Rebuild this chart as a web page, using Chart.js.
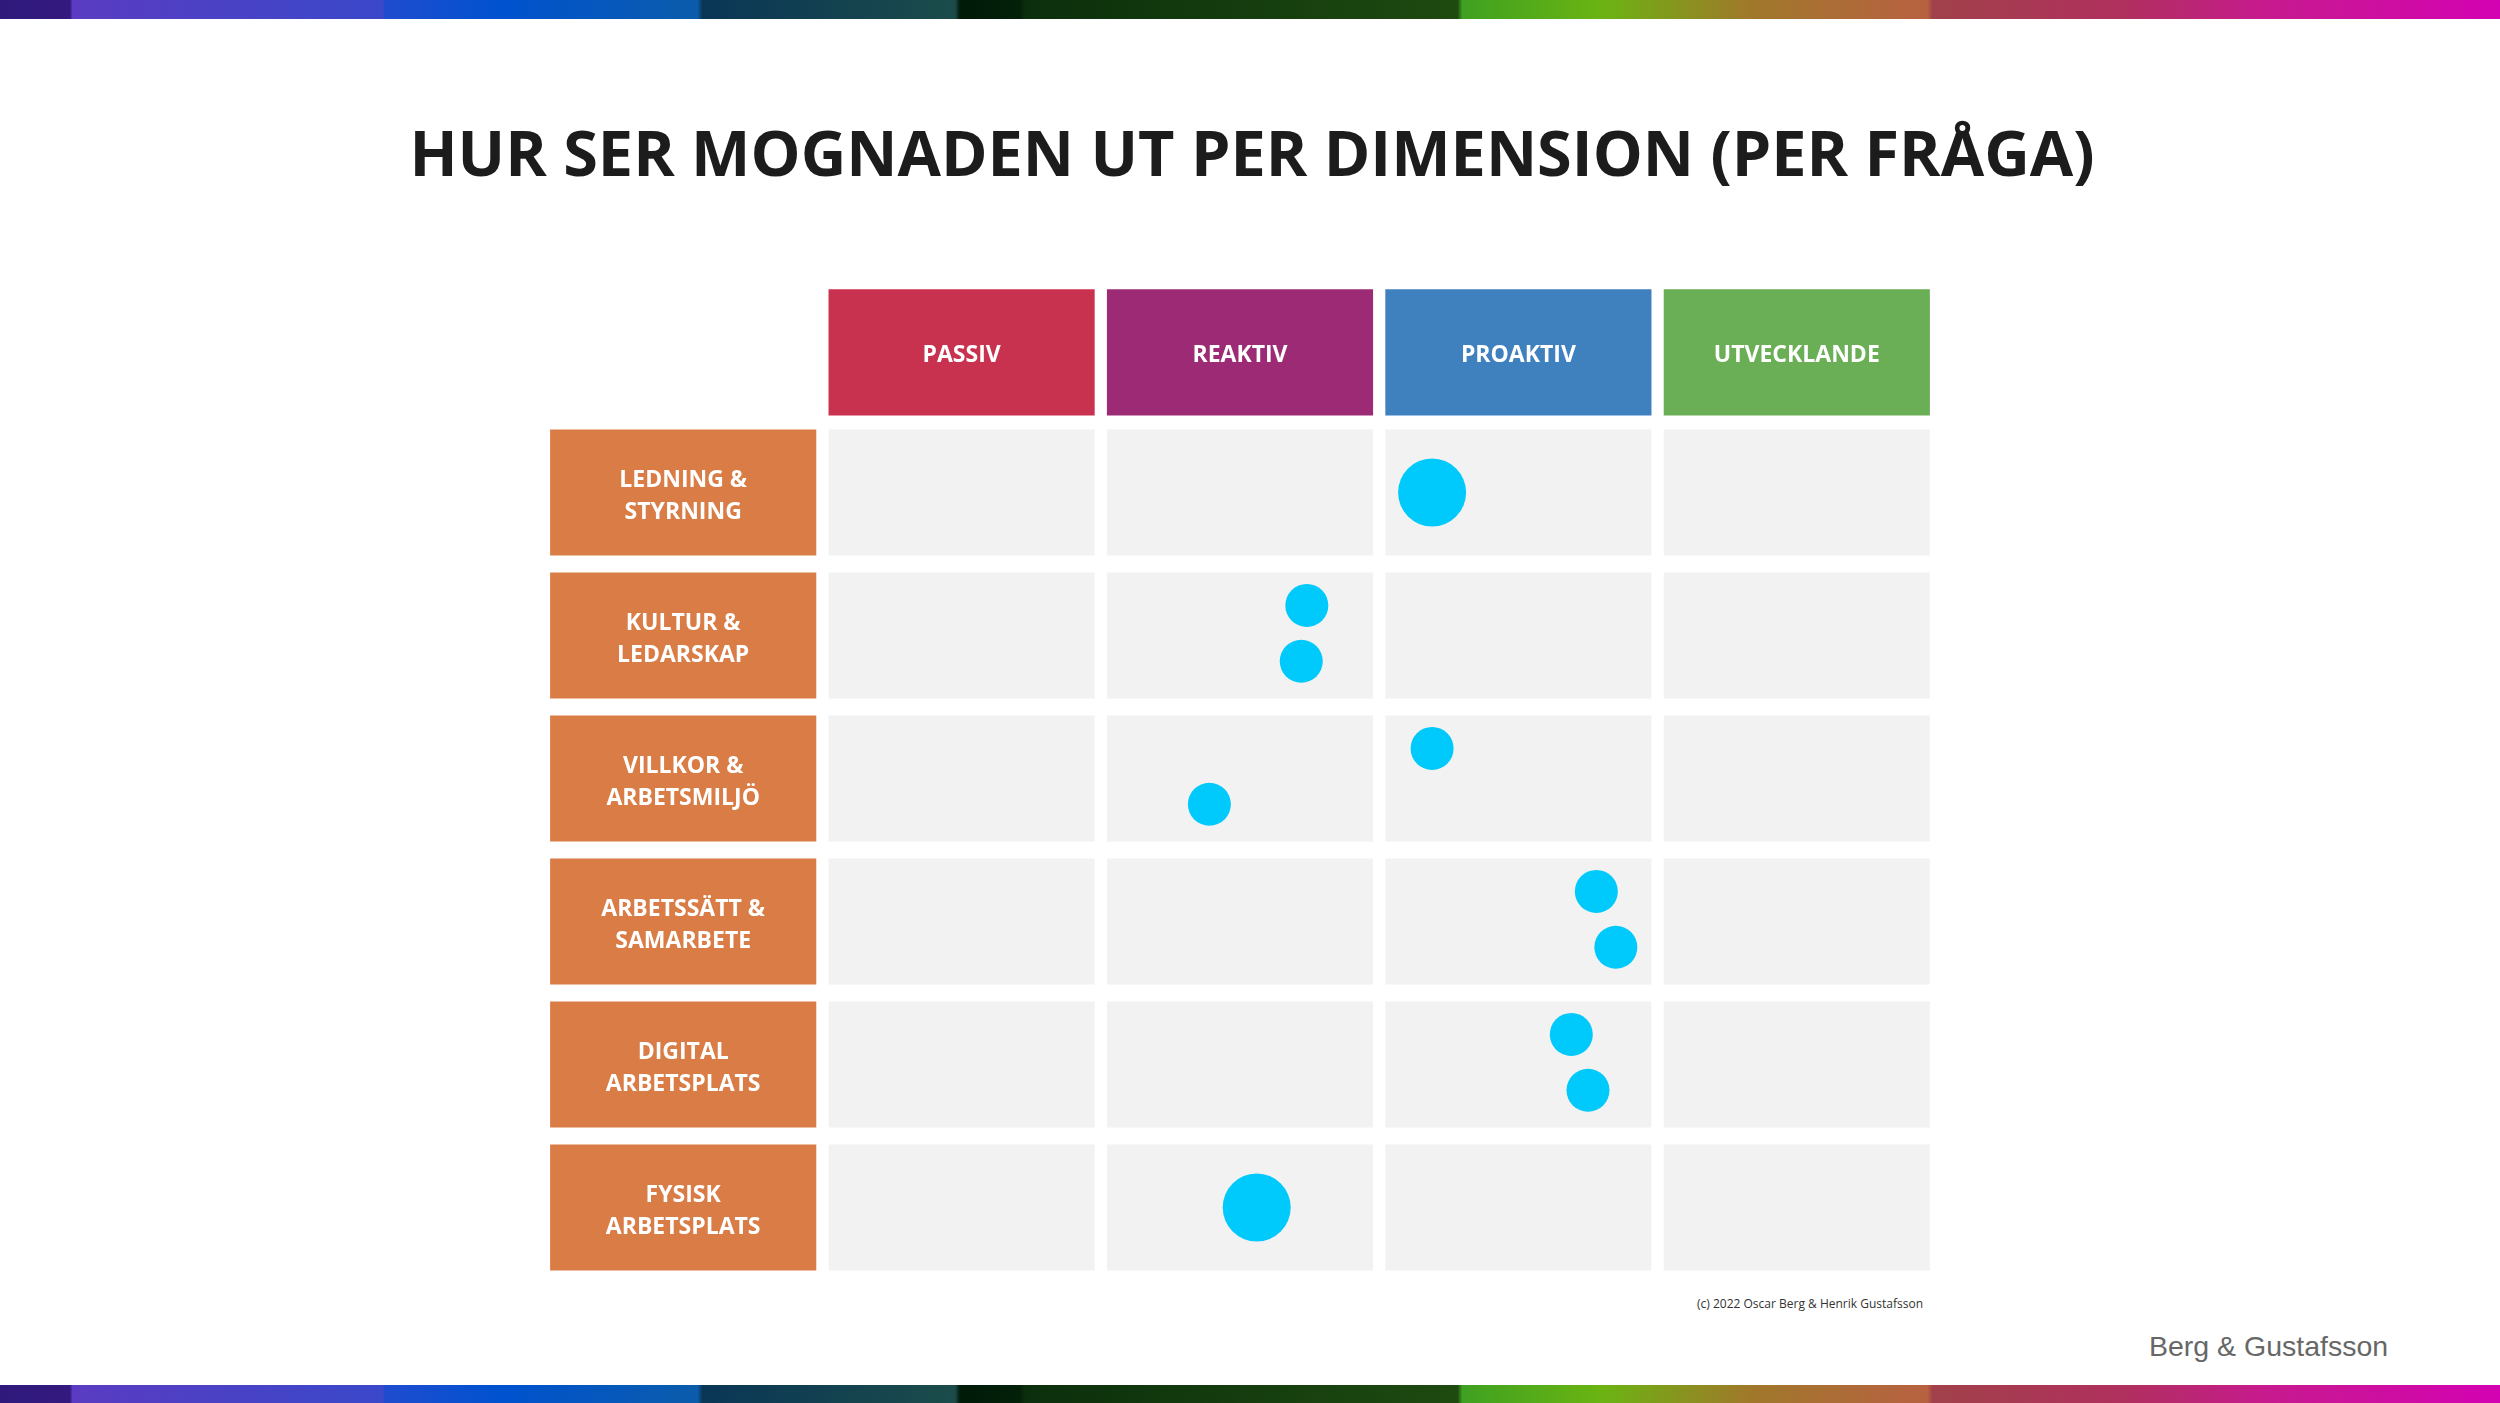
<!DOCTYPE html>
<html lang="sv">
<head>
<meta charset="utf-8">
<title>Hur ser mognaden ut per dimension (per fråga)</title>
<script src="https://cdn.jsdelivr.net/npm/chart.js@4.4.1/dist/chart.umd.min.js"></script>
<style>
  html, body { margin: 0; padding: 0; background: #fff; }
  body { width: 2500px; height: 1403px; position: relative; overflow: hidden; font-family: 'Open Sans', sans-serif; }
  .band {
    position: absolute; left: 0; width: 2500px;
    background: linear-gradient(90deg,
      #2f1a7c 0%, #34197e 2.8%, #5a3cc2 2.9%, #3a48c9 15.3%, #1f4ccf 15.4%, #0052cf 20%, #0b5cab 27.9%,
      #0a3656 28.1%, #1b4c4a 38.2%, #001a08 38.4%, #03200a 40.8%, #0b2f0c 41%, #1e4a10 58.3%,
      #3fa121 58.5%, #6ab412 64%, #a0782a 70%, #b86142 77.1%, #a1414a 77.3%, #b0305e 85%, #c71b8e 90.5%, #d302b2 100%);
  }
  .band.top { top: 0; height: 19px; }
  .band.bottom { bottom: 0; height: 18px; }
  h1 {
    position: absolute; left: 0; top: 120px; width: 2504px; margin: 0;
    text-align: center; font: 700 63px/63px 'Open Sans', sans-serif; color: #1c1c1c;
  }
  #grid { position: absolute; left: 544px; top: 278px; }
  .copy {
    position: absolute; left: 1697px; top: 1296px;
    font: 400 12px/16px 'Open Sans', sans-serif; color: #333;
  }
  .brand {
    position: absolute; left: 2149px; top: 1330px;
    font: 400 28.5px/32px 'Liberation Sans', Arial, sans-serif; color: #676767;
  }
</style>
</head>
<body>
<div class="band top"></div>
<h1>HUR SER MOGNADEN UT PER DIMENSION (PER FRÅGA)</h1>
<canvas id="grid" width="1392" height="1001"></canvas>
<div class="copy">(c) 2022 Oscar Berg &amp; Henrik Gustafsson</div>
<div class="brand">Berg &amp; Gustafsson</div>
<div class="band bottom"></div>
<script>
const levels = ['PASSIV', 'REAKTIV', 'PROAKTIV', 'UTVECKLANDE'];
const levelColors = ['#c9324f', '#9d2a74', '#3f80bf', '#6aae56'];
const dimensions = [
  ['LEDNING &', 'STYRNING'],
  ['KULTUR &', 'LEDARSKAP'],
  ['VILLKOR &', 'ARBETSMILJÖ'],
  ['ARBETSSÄTT &', 'SAMARBETE'],
  ['DIGITAL', 'ARBETSPLATS'],
  ['FYSISK', 'ARBETSPLATS']
];
// var varje fråga hamnar på mognadsskalan (0 = början av PASSIV, 4 = slutet av UTVECKLANDE)
const questionScores = [
  [2.19],
  [1.74, 1.72],
  [2.19, 1.39],
  [2.78, 2.85],
  [2.69, 2.75],
  [1.56]
];

const inset = 0.022;    // luft mellan rutorna
const headerRow = 0.02; // rubrikraden ligger lite närmare första raden

const headerCells = levels.map((l, c) => ({ x: [c + inset, c + 1 - inset], y: headerRow }));
const labelCells = dimensions.map((d, r) => ({ x: [-1 + inset, -inset], y: r + 1 }));
const gridCells = [];
dimensions.forEach((d, r) => {
  levels.forEach((l, c) => gridCells.push({ x: [c + inset, c + 1 - inset], y: r + 1 }));
});

const dots = [];
const dotRadius = [];
questionScores.forEach((scores, r) => {
  scores.forEach((s, k) => {
    // två frågor i samma dimension läggs ovanför/under varandra
    const shift = scores.length === 1 ? 0 : (k === 0 ? -0.21 : 0.18);
    dots.push({ x: s, y: r + 1 + shift });
    dotRadius.push(scores.length === 1 ? 34 : 21.5);
  });
});

const boxText = {
  id: 'boxText',
  afterDatasetsDraw(chart) {
    const ctx = chart.ctx;
    ctx.save();
    ctx.fillStyle = '#ffffff';
    ctx.textAlign = 'center';
    ctx.textBaseline = 'middle';
    ctx.font = '700 23px "Open Sans"';
    chart.getDatasetMeta(2).data.forEach((bar, i) => {
      const p = bar.getCenterPoint();
      ctx.fillText(levels[i], p.x, p.y + 3);
    });
    chart.getDatasetMeta(3).data.forEach((bar, i) => {
      const p = bar.getCenterPoint();
      const lines = dimensions[i];
      lines.forEach((t, k) => {
        ctx.fillText(t, p.x, p.y + 4 + (k - (lines.length - 1) / 2) * 32);
      });
    });
    ctx.restore();
  }
};

const barStyle = {
  type: 'bar',
  indexAxis: 'y',
  grouped: false,
  categoryPercentage: 1,
  barPercentage: 0.9,
  borderWidth: 0,
  borderSkipped: false
};

new Chart(document.getElementById('grid'), {
  type: 'bar',
  data: {
    datasets: [
      {
        type: 'bubble',
        data: dots,
        backgroundColor: '#00c9fb',
        borderWidth: 0,
        radius: ctx => dotRadius[ctx.dataIndex],
        order: 0
      },
      Object.assign({}, barStyle, { data: gridCells, backgroundColor: '#f2f2f2', order: 3 }),
      Object.assign({}, barStyle, { data: headerCells, backgroundColor: levelColors, order: 2 }),
      Object.assign({}, barStyle, { data: labelCells, backgroundColor: '#d97c45', order: 2 })
    ]
  },
  options: {
    responsive: false,
    animation: false,
    events: [],
    layout: { padding: 0, autoPadding: false },
    plugins: {
      legend: { display: false },
      tooltip: { enabled: false },
      title: { display: false }
    },
    scales: {
      x: { type: 'linear', min: -1, max: 4, display: false, offset: false, ticks: { stepSize: 1 } },
      y: { type: 'linear', min: -0.5, max: 6.5, reverse: true, display: false, offset: false, ticks: { stepSize: 1 } }
    }
  },
  plugins: [boxText]
});
</script>
</body>
</html>
